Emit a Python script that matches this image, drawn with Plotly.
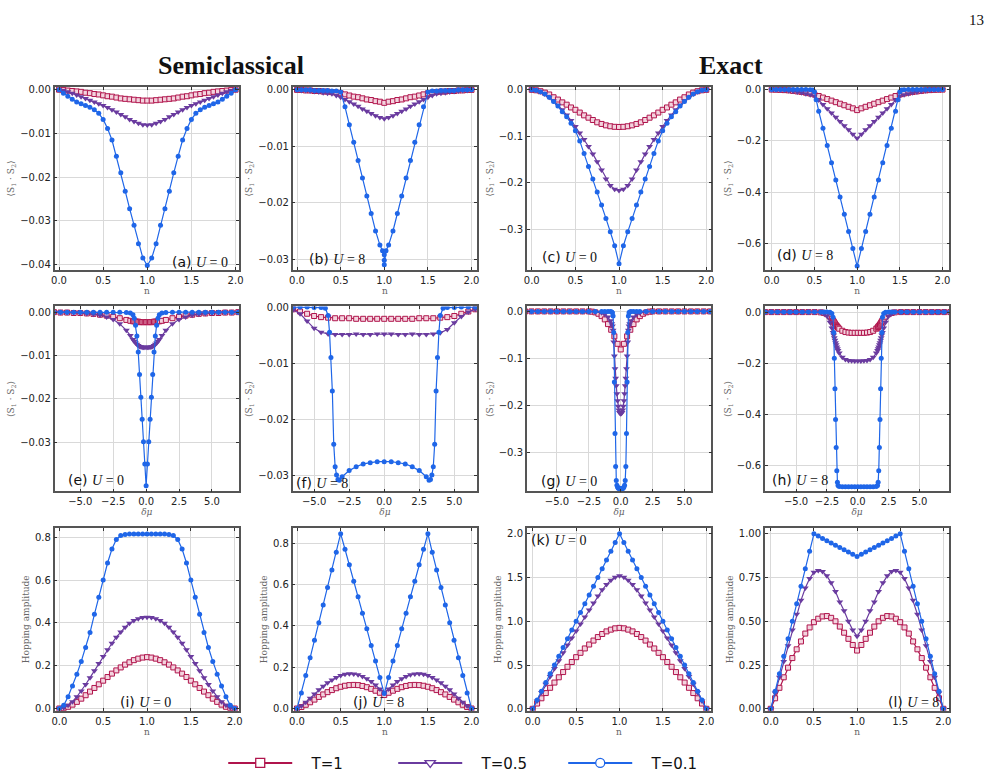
import plotly.graph_objects as go

# ---------------- data ----------------
N41 = [0.0,0.05,0.1,0.15,0.2,0.25,0.3,0.35,0.4,0.45,0.5,0.55,0.6,0.65,0.7,0.75,0.8,0.85,0.9,0.95,1.0,
       1.05,1.1,1.15,1.2,1.25,1.3,1.35,1.4,1.45,1.5,1.55,1.6,1.65,1.7,1.75,1.8,1.85,1.9,1.95,2.0]

# (a) semiclassical U=0
a_T1 = [0,-0.0001,-0.0002,-0.0003,-0.0004,-0.0005,-0.0007,-0.0008,-0.0010,-0.0011,-0.0013,-0.0015,-0.0016,-0.0018,-0.0020,-0.0021,-0.0022,-0.0023,-0.0024,-0.0025,-0.0025,
        -0.0025,-0.0024,-0.0023,-0.0022,-0.0021,-0.0020,-0.0018,-0.0016,-0.0015,-0.0013,-0.0011,-0.0010,-0.0008,-0.0007,-0.0005,-0.0004,-0.0003,-0.0002,-0.0001,0]
a_T05 = [0,-0.0002,-0.0005,-0.0008,-0.0012,-0.0016,-0.0020,-0.0024,-0.0028,-0.0032,-0.0036,-0.0041,-0.0046,-0.0051,-0.0057,-0.0062,-0.0068,-0.0073,-0.0077,-0.0080,-0.0081,
         -0.0080,-0.0077,-0.0073,-0.0068,-0.0062,-0.0057,-0.0051,-0.0046,-0.0041,-0.0036,-0.0032,-0.0028,-0.0024,-0.0020,-0.0016,-0.0012,-0.0008,-0.0005,-0.0002,0]
a_T01 = [0,-0.0008,-0.0015,-0.0022,-0.0028,-0.0032,-0.0036,-0.0040,-0.0046,-0.0054,-0.0068,-0.0089,-0.0115,-0.0152,-0.0190,-0.0232,-0.0272,-0.0310,-0.0352,-0.0385,-0.0402,
         -0.0385,-0.0352,-0.0310,-0.0272,-0.0232,-0.0190,-0.0152,-0.0115,-0.0089,-0.0068,-0.0054,-0.0046,-0.0040,-0.0036,-0.0032,-0.0028,-0.0022,-0.0015,-0.0008,0]

# (b) semiclassical U=8
b_T1 = [0,0,-0.0001,-0.0001,-0.0002,-0.0002,-0.0003,-0.0003,-0.0004,-0.0005,-0.0006,-0.0008,-0.0010,-0.0012,-0.0013,-0.0015,-0.0017,-0.0018,-0.0020,-0.0021,-0.0023,
        -0.0021,-0.0020,-0.0018,-0.0017,-0.0015,-0.0013,-0.0012,-0.0010,-0.0008,-0.0006,-0.0005,-0.0004,-0.0003,-0.0003,-0.0002,-0.0002,-0.0001,-0.0001,0,0]
b_T05 = [0,-0.0001,-0.0001,-0.0002,-0.0003,-0.0004,-0.0005,-0.0006,-0.0007,-0.0010,-0.0013,-0.0017,-0.0021,-0.0025,-0.0029,-0.0034,-0.0038,-0.0042,-0.0046,-0.0049,-0.0051,
         -0.0049,-0.0046,-0.0042,-0.0038,-0.0034,-0.0029,-0.0025,-0.0021,-0.0017,-0.0013,-0.0010,-0.0007,-0.0006,-0.0005,-0.0004,-0.0003,-0.0002,-0.0001,-0.0001,0]
b_x01 = [0.0,0.05,0.1,0.15,0.2,0.25,0.3,0.35,0.4,0.45,0.5,0.55,0.6,0.65,0.7,0.75,0.8,0.85,0.9,0.95,0.98,1.0,1.0,1.0,1.02,
         1.05,1.1,1.15,1.2,1.25,1.3,1.35,1.4,1.45,1.5,1.55,1.6,1.65,1.7,1.75,1.8,1.85,1.9,1.95,2.0]
b_T01 = [0,0,0,0,-0.0001,-0.0001,-0.0001,-0.0001,-0.0002,-0.0002,-0.0004,-0.0030,-0.0062,-0.0093,-0.0125,-0.0156,-0.0188,-0.0219,-0.0250,-0.0275,-0.0285,-0.0292,-0.0302,-0.0310,-0.0285,
         -0.0275,-0.0250,-0.0219,-0.0188,-0.0156,-0.0125,-0.0093,-0.0062,-0.0030,-0.0004,-0.0002,-0.0002,-0.0001,-0.0001,-0.0001,-0.0001,0,0,0,0]

# (c) exact U=0
c_T1 = [0,-0.001,-0.003,-0.006,-0.010,-0.016,-0.021,-0.027,-0.032,-0.038,-0.043,-0.049,-0.055,-0.060,-0.065,-0.070,-0.0735,-0.0765,-0.0785,-0.0797,-0.080,
        -0.0797,-0.0785,-0.0765,-0.0735,-0.070,-0.065,-0.060,-0.055,-0.049,-0.043,-0.038,-0.032,-0.027,-0.021,-0.016,-0.010,-0.006,-0.003,-0.001,0]
c_T05 = [0,-0.001,-0.004,-0.009,-0.016,-0.024,-0.033,-0.043,-0.054,-0.066,-0.079,-0.093,-0.107,-0.122,-0.138,-0.155,-0.173,-0.192,-0.206,-0.214,-0.217,
         -0.214,-0.206,-0.192,-0.173,-0.155,-0.138,-0.122,-0.107,-0.093,-0.079,-0.066,-0.054,-0.043,-0.033,-0.024,-0.016,-0.009,-0.004,-0.001,0]
c_T01 = [0,-0.001,-0.004,-0.009,-0.016,-0.025,-0.035,-0.047,-0.058,-0.072,-0.088,-0.110,-0.137,-0.165,-0.192,-0.220,-0.248,-0.277,-0.306,-0.336,-0.375,
         -0.336,-0.306,-0.277,-0.248,-0.220,-0.192,-0.165,-0.137,-0.110,-0.088,-0.072,-0.058,-0.047,-0.035,-0.025,-0.016,-0.009,-0.004,-0.001,0]

# (d) exact U=8
d_T1 = [0,-0.0005,-0.001,-0.002,-0.003,-0.005,-0.007,-0.009,-0.012,-0.015,-0.019,-0.025,-0.031,-0.037,-0.043,-0.049,-0.055,-0.061,-0.067,-0.073,-0.080,
        -0.073,-0.067,-0.061,-0.055,-0.049,-0.043,-0.037,-0.031,-0.025,-0.019,-0.015,-0.012,-0.009,-0.007,-0.005,-0.003,-0.002,-0.001,-0.0005,0]
d_T05 = [0,-0.0005,-0.001,-0.002,-0.004,-0.006,-0.009,-0.012,-0.016,-0.020,-0.025,-0.041,-0.058,-0.075,-0.091,-0.108,-0.124,-0.141,-0.157,-0.174,-0.190,
         -0.174,-0.157,-0.141,-0.124,-0.108,-0.091,-0.075,-0.058,-0.041,-0.025,-0.020,-0.016,-0.012,-0.009,-0.006,-0.004,-0.002,-0.001,-0.0005,0]
d_x01 = [0.0,0.05,0.1,0.15,0.2,0.25,0.3,0.35,0.4,0.45,0.48,0.5,0.52,0.55,0.6,0.65,0.7,0.75,0.8,0.85,0.9,0.95,1.0,
         1.05,1.1,1.15,1.2,1.25,1.3,1.35,1.4,1.45,1.48,1.5,1.52,1.55,1.6,1.65,1.7,1.75,1.8,1.85,1.9,1.95,2.0]
d_T01 = [0,0,0,0,0,0,0,0,0,-0.001,-0.002,-0.008,-0.040,-0.084,-0.151,-0.218,-0.285,-0.352,-0.419,-0.486,-0.553,-0.620,-0.688,
         -0.620,-0.553,-0.486,-0.419,-0.352,-0.285,-0.218,-0.151,-0.084,-0.040,-0.008,-0.002,-0.001,0,0,0,0,0,0,0,0,0]

# (e) semiclassical U=0 vs delta mu
e_x = [-7,-6.5,-6,-5.5,-5,-4.5,-4,-3.5,-3,-2.5,-2,-1.5,-1.2,-1.0,-0.9,-0.8,-0.7,-0.6,-0.5,-0.4,-0.3,-0.2,-0.1,0,
       0.1,0.2,0.3,0.4,0.5,0.6,0.7,0.8,0.9,1.0,1.2,1.5,2,2.5,3,3.5,4,4.5,5,5.5,6,6.5,7]
e_T1 = [0,-0.0001,-0.0001,-0.0002,-0.0002,-0.0003,-0.0004,-0.0006,-0.0008,-0.0011,-0.0014,-0.0018,-0.0020,-0.0021,-0.0021,-0.0022,-0.0022,-0.0022,-0.0023,-0.0023,-0.0023,-0.0023,-0.0023,-0.0023,
        -0.0023,-0.0023,-0.0023,-0.0023,-0.0023,-0.0022,-0.0022,-0.0022,-0.0021,-0.0021,-0.0020,-0.0018,-0.0014,-0.0011,-0.0008,-0.0006,-0.0004,-0.0003,-0.0002,-0.0002,-0.0001,-0.0001,0]
e_T05 = [0,-0.0001,-0.0001,-0.0001,-0.0002,-0.0003,-0.0005,-0.0007,-0.0011,-0.0017,-0.0027,-0.0042,-0.0054,-0.0063,-0.0067,-0.0071,-0.0074,-0.0077,-0.0079,-0.0080,-0.0081,-0.0081,-0.0081,-0.0081,
         -0.0081,-0.0081,-0.0081,-0.0080,-0.0079,-0.0077,-0.0074,-0.0071,-0.0067,-0.0063,-0.0054,-0.0042,-0.0027,-0.0017,-0.0011,-0.0007,-0.0005,-0.0003,-0.0002,-0.0001,-0.0001,-0.0001,0]
e_T01 = [0,0,0,0,0,0,0,0,0,0,0,-0.0001,-0.0002,-0.0006,-0.0014,-0.0030,-0.0055,-0.0092,-0.0144,-0.0196,-0.0247,-0.0299,-0.0350,-0.0400,
         -0.0350,-0.0299,-0.0247,-0.0196,-0.0144,-0.0092,-0.0055,-0.0030,-0.0014,-0.0006,-0.0002,-0.0001,0,0,0,0,0,0,0,0,0,0,0]

# (f) semiclassical U=8 vs delta mu
f_x = [-6.5,-6,-5.5,-5,-4.5,-4,-3.5,-3,-2.5,-2,-1.5,-1,-0.5,0,0.5,1,1.5,2,2.5,3,3.5,4,4.5,5,5.5,6,6.5]
f_T1 = [-0.0004,-0.0008,-0.0012,-0.0016,-0.0018,-0.0019,-0.0020,-0.0020,-0.0020,-0.0021,-0.0021,-0.0021,-0.0021,-0.0021,
        -0.0021,-0.0021,-0.0021,-0.0021,-0.0020,-0.0020,-0.0020,-0.0019,-0.0018,-0.0016,-0.0012,-0.0008,-0.0004]
f_T05 = [-0.0005,-0.0012,-0.0025,-0.0038,-0.0045,-0.0048,-0.0049,-0.0049,-0.0049,-0.0048,-0.0049,-0.0049,-0.0048,-0.0048,
         -0.0048,-0.0049,-0.0049,-0.0048,-0.0049,-0.0049,-0.0048,-0.0046,-0.0040,-0.0028,-0.0017,-0.0009,-0.0004]
f_x01 = [-6.5,-6,-5.5,-5,-4.5,-4.2,-4.0,-3.9,-3.8,-3.7,-3.6,-3.5,-3.4,-3.3,-3.2,-3.0,-2.5,-2.0,-1.5,-1.0,-0.5,0,
         0.5,1.0,1.5,2.0,2.5,3.0,3.2,3.3,3.4,3.5,3.6,3.7,3.8,3.9,4.0,4.2,4.5,5,5.5,6,6.5]
f_T01 = [0,0,0,-0.0001,-0.0001,-0.0002,-0.0015,-0.0045,-0.0090,-0.0150,-0.0245,-0.0285,-0.0300,-0.0308,-0.0309,-0.0303,-0.0292,-0.0285,-0.0280,-0.0278,-0.0276,-0.0276,
         -0.0276,-0.0278,-0.0280,-0.0285,-0.0292,-0.0303,-0.0309,-0.0308,-0.0300,-0.0285,-0.0245,-0.0150,-0.0090,-0.0045,-0.0015,-0.0002,-0.0001,-0.0001,0,0,0]

# (g) exact U=0 vs delta mu
g_x1 = [-7.5,-7,-6.5,-6,-5.5,-5,-4.5,-4,-3.5,-3,-2.5,-2.25,-2,-1.75,-1.5,-1.25,-1,-0.75,-0.5,-0.25,0,
        0.25,0.5,0.75,1,1.25,1.5,1.75,2,2.25,2.5,3,3.5,4,4.5,5,5.5,6,6.5,7,7.5]
g_T1 = [0,0,0,0,0,0,0,0,0,0,0,-0.0005,-0.002,-0.005,-0.010,-0.017,-0.027,-0.039,-0.053,-0.069,-0.081,
        -0.069,-0.053,-0.039,-0.027,-0.017,-0.010,-0.005,-0.002,-0.0005,0,0,0,0,0,0,0,0,0,0,0]
g_x2 = [-7.5,-7,-6.5,-6,-5.5,-5,-4.5,-4,-3.5,-3,-2.5,-2,-1.5,-1.25,-1.0,-0.8,-0.7,-0.65,-0.6,-0.55,-0.5,-0.45,-0.4,-0.35,-0.3,-0.25,-0.2,-0.15,-0.1,-0.05,0,
        0.05,0.1,0.15,0.2,0.25,0.3,0.35,0.4,0.45,0.5,0.55,0.6,0.65,0.7,0.8,1.0,1.25,1.5,2,2.5,3,3.5,4,4.5,5,5.5,6,6.5,7,7.5]
g_T05 = [0,0,0,0,0,0,0,0,0,0,-0.0005,-0.001,-0.003,-0.006,-0.012,-0.020,-0.026,-0.031,-0.040,-0.065,-0.095,-0.122,-0.142,-0.158,-0.175,-0.190,-0.202,-0.210,-0.215,-0.217,-0.218,
         -0.217,-0.215,-0.210,-0.202,-0.190,-0.175,-0.158,-0.142,-0.122,-0.095,-0.065,-0.040,-0.031,-0.026,-0.020,-0.012,-0.006,-0.003,-0.001,-0.0005,0,0,0,0,0,0,0,0,0,0]
g_T01 = [0,0,0,0,0,0,0,0,0,0,0,0,0,0,0,0,-0.001,-0.003,-0.010,-0.045,-0.150,-0.260,-0.330,-0.360,-0.370,-0.374,-0.376,-0.377,-0.377,-0.377,-0.377,
         -0.377,-0.377,-0.377,-0.376,-0.374,-0.370,-0.360,-0.330,-0.260,-0.150,-0.045,-0.010,-0.003,-0.001,0,0,0,0,0,0,0,0,0,0,0,0,0,0,0,0]

# (h) exact U=8 vs delta mu
h_x = [-7.5,-7,-6.5,-6,-5.5,-5,-4.5,-4,-3.5,-3,-2.75,-2.5,-2.25,-2.1,-2.0,-1.95,-1.9,-1.85,-1.8,-1.75,-1.7,-1.65,-1.6,-1.5,-1.25,-1.0,-0.75,-0.5,-0.25,0,
       0.25,0.5,0.75,1.0,1.25,1.5,1.6,1.65,1.7,1.75,1.8,1.85,1.9,1.95,2.0,2.1,2.25,2.5,2.75,3,3.5,4,4.5,5,5.5,6,6.5,7,7.5]
h_T1 = [0,0,0,0,0,0,0,0,0,-0.001,-0.003,-0.008,-0.018,-0.026,-0.033,-0.037,-0.041,-0.045,-0.049,-0.052,-0.055,-0.058,-0.061,-0.065,-0.073,-0.078,-0.080,-0.081,-0.081,-0.081,
        -0.081,-0.081,-0.080,-0.078,-0.073,-0.065,-0.061,-0.058,-0.055,-0.052,-0.049,-0.045,-0.041,-0.037,-0.033,-0.026,-0.018,-0.008,-0.003,-0.001,0,0,0,0,0,0,0,0,0]
h_T05 = [0,0,0,0,0,0,0,0,0,-0.001,-0.005,-0.015,-0.040,-0.062,-0.080,-0.090,-0.100,-0.110,-0.120,-0.128,-0.136,-0.143,-0.150,-0.160,-0.177,-0.185,-0.189,-0.190,-0.191,-0.191,
         -0.191,-0.190,-0.189,-0.185,-0.177,-0.160,-0.150,-0.143,-0.136,-0.128,-0.120,-0.110,-0.100,-0.090,-0.080,-0.062,-0.040,-0.015,-0.005,-0.001,0,0,0,0,0,0,0,0,0]
h_T01 = [0,0,0,0,0,0,0,0,0,0,0,0,-0.001,-0.005,-0.020,-0.080,-0.180,-0.300,-0.420,-0.530,-0.620,-0.665,-0.678,-0.682,-0.683,-0.683,-0.683,-0.683,-0.683,-0.683,
         -0.683,-0.683,-0.683,-0.683,-0.683,-0.682,-0.678,-0.665,-0.620,-0.530,-0.420,-0.300,-0.180,-0.080,-0.020,-0.005,-0.001,0,0,0,0,0,0,0,0,0,0,0,0]

# (i) semiclassical hopping U=0
i_T1 = [0,0.002,0.008,0.018,0.031,0.046,0.062,0.079,0.096,0.113,0.130,0.147,0.163,0.178,0.192,0.205,0.216,0.226,0.233,0.238,0.240,
        0.238,0.233,0.226,0.216,0.205,0.192,0.178,0.163,0.147,0.130,0.113,0.096,0.079,0.062,0.046,0.031,0.018,0.008,0.002,0]
i_T05 = [0,0.004,0.015,0.032,0.055,0.082,0.112,0.144,0.177,0.210,0.243,0.275,0.305,0.333,0.358,0.380,0.398,0.411,0.420,0.425,0.427,
         0.425,0.420,0.411,0.398,0.380,0.358,0.333,0.305,0.275,0.243,0.210,0.177,0.144,0.112,0.082,0.055,0.032,0.015,0.004,0]
i_T01 = [0,0.015,0.055,0.105,0.160,0.220,0.285,0.355,0.440,0.520,0.600,0.680,0.745,0.790,0.808,0.813,0.815,0.816,0.816,0.816,0.816,
         0.816,0.816,0.816,0.815,0.813,0.808,0.790,0.745,0.680,0.600,0.520,0.440,0.355,0.285,0.220,0.160,0.105,0.055,0.015,0]

# (j) semiclassical hopping U=8
j_T1 = [0,0.007,0.018,0.030,0.043,0.056,0.068,0.079,0.089,0.098,0.105,0.110,0.113,0.114,0.113,0.109,0.103,0.095,0.086,0.076,0.065,
        0.076,0.086,0.095,0.103,0.109,0.113,0.114,0.113,0.110,0.105,0.098,0.089,0.079,0.068,0.056,0.043,0.030,0.018,0.007,0]
j_T05 = [0,0.012,0.030,0.050,0.070,0.090,0.108,0.124,0.138,0.150,0.159,0.165,0.168,0.167,0.163,0.155,0.144,0.130,0.113,0.094,0.075,
         0.094,0.113,0.130,0.144,0.155,0.163,0.167,0.168,0.165,0.159,0.150,0.138,0.124,0.108,0.090,0.070,0.050,0.030,0.012,0]
j_T01 = [0,0.075,0.160,0.245,0.330,0.415,0.500,0.585,0.670,0.755,0.845,0.770,0.695,0.615,0.540,0.460,0.385,0.305,0.230,0.150,0.072,
         0.150,0.230,0.305,0.385,0.460,0.540,0.615,0.695,0.770,0.845,0.755,0.670,0.585,0.500,0.415,0.330,0.245,0.160,0.075,0]

# (k) exact hopping U=0
k_T1 = [0,0.06,0.12,0.18,0.24,0.30,0.36,0.42,0.48,0.535,0.59,0.64,0.69,0.735,0.78,0.82,0.855,0.885,0.905,0.92,0.925,
        0.92,0.905,0.885,0.855,0.82,0.78,0.735,0.69,0.64,0.59,0.535,0.48,0.42,0.36,0.30,0.24,0.18,0.12,0.06,0]
k_T05 = [0,0.09,0.185,0.28,0.37,0.46,0.55,0.64,0.73,0.81,0.89,0.97,1.05,1.13,1.21,1.29,1.36,1.42,1.47,1.505,1.52,
         1.505,1.47,1.42,1.36,1.29,1.21,1.13,1.05,0.97,0.89,0.81,0.73,0.64,0.55,0.46,0.37,0.28,0.185,0.09,0]
k_T01 = [0,0.1,0.2,0.3,0.4,0.5,0.6,0.7,0.8,0.9,1.0,1.1,1.2,1.3,1.4,1.5,1.6,1.7,1.8,1.9,2.0,
         1.9,1.8,1.7,1.6,1.5,1.4,1.3,1.2,1.1,1.0,0.9,0.8,0.7,0.6,0.5,0.4,0.3,0.2,0.1,0]

# (l) exact hopping U=8
l_T1 = [0,0.06,0.12,0.18,0.235,0.29,0.34,0.385,0.43,0.465,0.495,0.515,0.528,0.53,0.52,0.50,0.47,0.435,0.40,0.365,0.333,
        0.365,0.40,0.435,0.47,0.50,0.52,0.53,0.528,0.515,0.495,0.465,0.43,0.385,0.34,0.29,0.235,0.18,0.12,0.06,0]
l_T05 = [0,0.09,0.18,0.27,0.36,0.45,0.54,0.62,0.69,0.745,0.78,0.79,0.785,0.76,0.72,0.67,0.61,0.56,0.50,0.45,0.415,
         0.45,0.50,0.56,0.61,0.67,0.72,0.76,0.785,0.79,0.78,0.745,0.69,0.62,0.54,0.45,0.36,0.27,0.18,0.09,0]
l_T01 = [0,0.1,0.2,0.3,0.4,0.5,0.6,0.7,0.8,0.9,1.0,0.987,0.974,0.961,0.948,0.935,0.922,0.909,0.896,0.883,0.870,
         0.883,0.896,0.909,0.922,0.935,0.948,0.961,0.974,0.987,1.0,0.9,0.8,0.7,0.6,0.5,0.4,0.3,0.2,0.1,0]

SERIES_NAMES = ["T=1", "T=0.5", "T=0.1"]
PANEL_LABELS = ["(a)", "(b)", "(c)", "(d)", "(e)", "(f)", "(g)", "(h)", "(i)", "(j)", "(k)", "(l)"]
PANEL_U = ["0", "8", "0", "8", "0", "8", "0", "8", "0", "8", "0", "8"]
N_TICKS = [0.0, 0.5, 1.0, 1.5, 2.0]
MU_TICKS = [-5.0, -2.5, 0.0, 2.5, 5.0]

# ---------------- styling ----------------
W, H = 996, 781
COLS = [(51, 237), (291, 477), (527, 713), (767, 953)]
ROWS = [(83, 268), (305, 492), (529, 714)]
RED, PUR, BLU = "#b0144c", "#6a3b9f", "#1f66e8"

STY = [
    dict(color=RED, symbol="square", size=5, fill="#f3d3de", lw=1),
    dict(color=PUR, symbol="triangle-down", size=6, fill=PUR, lw=0),
    dict(color=BLU, symbol="circle", size=5, fill=BLU, lw=0),
]

panels = [
    dict(s=[(N41, a_T1), (N41, a_T05), (N41, a_T01)], xr=[-0.05, 2.04], yr=[-0.0412, 0.0006],
         yt=[0, -0.01, -0.02, -0.03, -0.04], yf=".2f", lab=(167, 260)),
    dict(s=[(N41, b_T1), (N41, b_T05), (b_x01, b_T01)], xr=[-0.05, 2.065], yr=[-0.0319, 0.0005],
         yt=[0, -0.01, -0.02, -0.03], yf=".2f", lab=(305, 257)),
    dict(s=[(N41, c_T1), (N41, c_T05), (N41, c_T01)], xr=[-0.057, 2.057], yr=[-0.388, 0.006],
         yt=[0, -0.1, -0.2, -0.3], yf=".1f", lab=(540, 255)),
    dict(s=[(N41, d_T1), (N41, d_T05), (d_x01, d_T01)], xr=[-0.081, 2.08], yr=[-0.703, 0.010],
         yt=[0, -0.2, -0.4, -0.6], yf=".1f", lab=(777, 253)),
    dict(s=[(e_x, e_T1), (e_x, e_T05), (e_x, e_T01)], xr=[-6.95, 7.06], yr=[-0.0413, 0.0013],
         yt=[0, -0.01, -0.02, -0.03], yf=".2f", lab=(63, 481)),
    dict(s=[(f_x, f_T1), (f_x, f_T05), (f_x01, f_T01)], xr=[-6.53, 6.63], yr=[-0.0329, 0.0001],
         yt=[0, -0.01, -0.02, -0.03], yf=".2f", lab=(292, 484)),
    dict(s=[(g_x1, g_T1), (g_x2, g_T05), (g_x2, g_T01)], xr=[-7.37, 7.1], yr=[-0.383, 0.0105],
         yt=[0, -0.1, -0.2, -0.3], yf=".1f", lab=(539, 482)),
    dict(s=[(h_x, h_T1), (h_x, h_T05), (h_x, h_T01)], xr=[-7.53, 7.42], yr=[-0.701, 0.022],
         yt=[0, -0.2, -0.4, -0.6], yf=".1f", lab=(772, 481)),
    dict(s=[(N41, i_T1), (N41, i_T05), (N41, i_T01)], xr=[-0.054, 2.05], yr=[-0.0106, 0.844],
         yt=[0, 0.2, 0.4, 0.6, 0.8], yf=".1f", lab=(115, 705)),
    dict(s=[(N41, j_T1), (N41, j_T05), (N41, j_T01)], xr=[-0.05, 2.065], yr=[-0.011, 0.873],
         yt=[0, 0.2, 0.4, 0.6, 0.8], yf=".1f", lab=(350, 705)),
    dict(s=[(N41, k_T1), (N41, k_T05), (N41, k_T01)], xr=[-0.069, 2.057], yr=[-0.0226, 2.068],
         yt=[0, 0.5, 1.0, 1.5, 2.0], yf=".1f", lab=(529, 541)),
    dict(s=[(N41, l_T1), (N41, l_T05), (N41, l_T01)], xr=[-0.069, 2.07], yr=[-0.0113, 1.034],
         yt=[0, 0.25, 0.5, 0.75, 1.0], yf=".2f", lab=(889, 705)),
]

fig = go.Figure()
layout = {}
annotations = []
TICKFONT = dict(family="DejaVu Sans", size=10, color="#222")
TITLEFONT = dict(family="DejaVu Serif", size=9, color="#666")

for idx, p in enumerate(panels):
    r, c = divmod(idx, 4)
    k = idx + 1
    xa = "x" if k == 1 else f"x{k}"
    ya = "y" if k == 1 else f"y{k}"
    for si, (xs, ys) in enumerate(p["s"]):
        st = STY[si]
        fig.add_trace(go.Scatter(
            x=xs, y=ys, xaxis=xa, yaxis=ya, mode="lines+markers", showlegend=False,
            line=dict(color=st["color"], width=1.2),
            marker=dict(symbol=st["symbol"], size=st["size"], color=st["fill"],
                        line=dict(color=st["color"], width=st["lw"])),
            cliponaxis=True,
        ))
    x0, x1 = COLS[c]
    y0, y1 = ROWS[r]
    is_mu = (r == 1)
    layout[f"xaxis{k if k > 1 else ''}"] = dict(
        domain=[x0 / W, x1 / W], anchor=ya, range=p["xr"],
        tickvals=MU_TICKS if is_mu else N_TICKS, tickformat=".1f",
        ticks="inside", ticklen=3, tickcolor="#333", mirror="ticks",
        showline=True, linecolor="#555", linewidth=1.5,
        showgrid=True, gridcolor="#d9d9d9", gridwidth=1, zeroline=False,
        tickfont=TICKFONT,
        title=dict(text="<i>δμ</i>" if is_mu else "n", font=TITLEFONT, standoff=2),
    )
    layout[f"yaxis{k if k > 1 else ''}"] = dict(
        domain=[1 - y1 / H, 1 - y0 / H], anchor=xa, range=p["yr"],
        tickvals=p["yt"], tickformat=p["yf"],
        ticks="inside", ticklen=3, tickcolor="#333", mirror="ticks",
        showline=True, linecolor="#555", linewidth=1.5,
        showgrid=True, gridcolor="#d9d9d9", gridwidth=1, zeroline=False,
        tickfont=TICKFONT,
        title=dict(text="Hopping amplitude" if r == 2 else "⟨S<sub>1</sub> · S<sub>2</sub>⟩",
                   font=TITLEFONT, standoff=4),
    )
    lx, ly = p["lab"]
    annotations.append(dict(
        xref="paper", yref="paper", x=lx / W, y=1 - ly / H, xanchor="left", yanchor="middle",
        showarrow=False,
        text=(PANEL_LABELS[idx] + " <span style='font-family:\"Liberation Serif\"'><i>U</i> = "
              + PANEL_U[idx] + "</span>"),
        font=dict(family="DejaVu Sans", size=14, color="#111"),
    ))

# column-group titles and page number
annotations.append(dict(xref="paper", yref="paper", x=229 / W, y=1 - 61 / H, showarrow=False,
                        text="<b>Semiclassical</b>", xanchor="center", yanchor="middle",
                        font=dict(family="Liberation Serif", size=26, color="#111")))
annotations.append(dict(xref="paper", yref="paper", x=733 / W, y=1 - 61 / H, showarrow=False,
                        text="<b>Exact</b>", xanchor="center", yanchor="middle",
                        font=dict(family="Liberation Serif", size=26, color="#111")))
annotations.append(dict(xref="paper", yref="paper", x=980 / W, y=1 - 15 / H, showarrow=False,
                        text="13", xanchor="center", yanchor="middle",
                        font=dict(family="Liberation Serif", size=15, color="#111")))

# legend entries (open markers)
for si, name in enumerate(SERIES_NAMES):
    st = STY[si]
    fig.add_trace(go.Scatter(
        x=[None], y=[None], mode="lines+markers", name="\u00a0\u00a0\u00a0" + name, showlegend=True,
        line=dict(color=st["color"], width=2),
        marker=dict(symbol=st["symbol"], size=9, color="white",
                    line=dict(color=st["color"], width=1.3)),
    ))

fig.update_layout(
    width=W, height=H, margin=dict(l=0, r=0, t=0, b=0),
    paper_bgcolor="white", plot_bgcolor="white",
    annotations=annotations,
    showlegend=True,
    legend=dict(orientation="h", x=221 / W, y=1 - 767 / H, xanchor="left", yanchor="middle",
                entrywidth=91, entrywidthmode="pixels", itemwidth=64,
                font=dict(family="DejaVu Sans", size=15, color="#111"),
                bgcolor="rgba(0,0,0,0)"),
    **layout,
)

fig.write_html("out.html")
